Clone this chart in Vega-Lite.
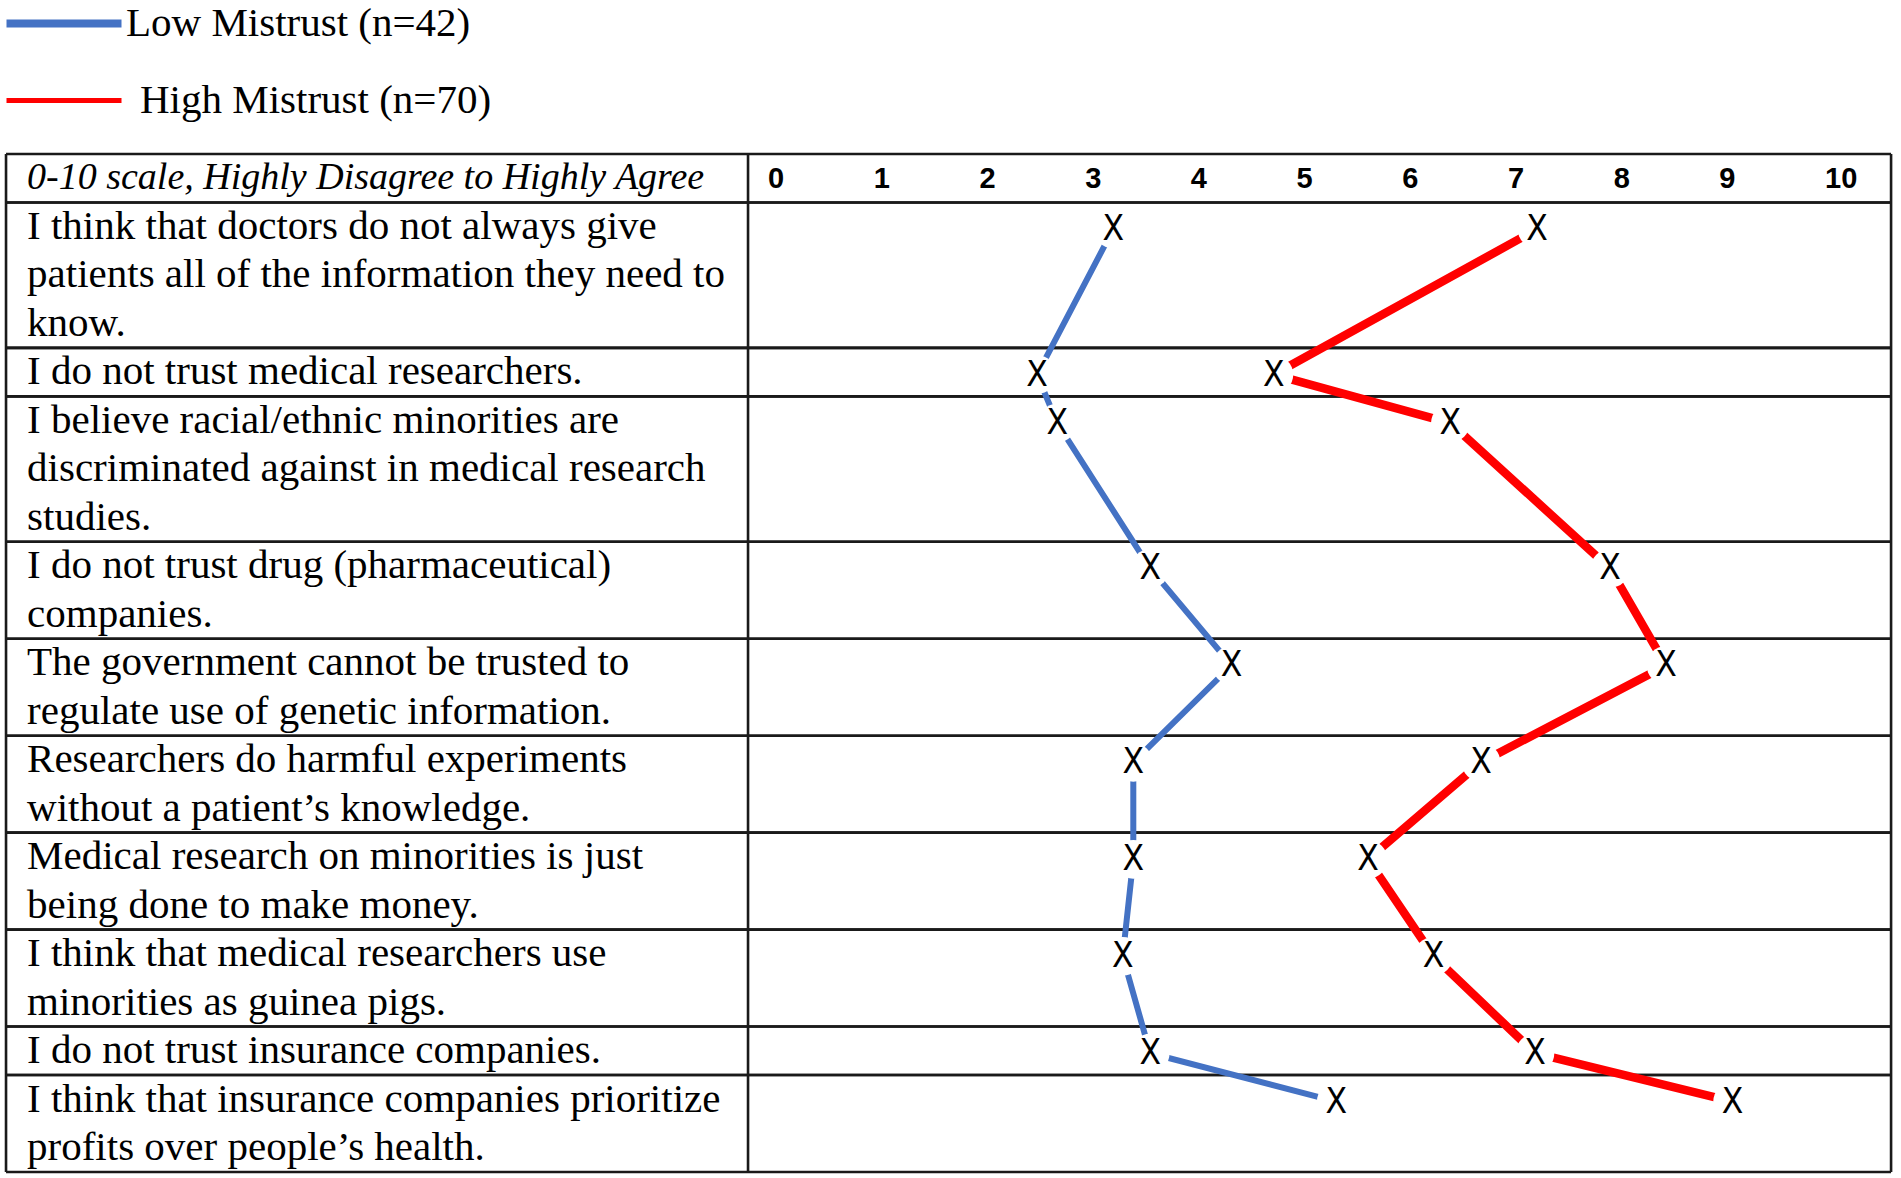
{
  "$schema": "https://vega.github.io/schema/vega-lite/v6.json",
  "width": 1901,
  "height": 1178,
  "autosize": {"type": "fit", "contains": "padding"},
  "padding": 0,
  "background": "white",
  "config": {"view": {"stroke": null}},
  "datasets": {
    "rows": [
      {"order": 0, "lines": ["0-10 scale, Highly Disagree to Highly Agree"]},
      {"order": 1, "lines": ["I think that doctors do not always give", "patients all of the information they need to", "know."], "low": 3.19, "high": 7.2},
      {"order": 2, "lines": ["I do not trust medical researchers."], "low": 2.47, "high": 4.71},
      {"order": 3, "lines": ["I believe racial/ethnic minorities are", "discriminated against in medical research", "studies."], "low": 2.66, "high": 6.38},
      {"order": 4, "lines": ["I do not trust drug (pharmaceutical)", "companies."], "low": 3.54, "high": 7.89},
      {"order": 5, "lines": ["The government cannot be trusted to", "regulate use of genetic information."], "low": 4.31, "high": 8.42},
      {"order": 6, "lines": ["Researchers do harmful experiments", "without a patient’s knowledge."], "low": 3.38, "high": 6.67},
      {"order": 7, "lines": ["Medical research on minorities is just", "being done to make money."], "low": 3.38, "high": 5.6},
      {"order": 8, "lines": ["I think that medical researchers use", "minorities as guinea pigs."], "low": 3.28, "high": 6.22},
      {"order": 9, "lines": ["I do not trust insurance companies."], "low": 3.54, "high": 7.18},
      {"order": 10, "lines": ["I think that insurance companies prioritize", "profits over people’s health."], "low": 5.3, "high": 9.05}
    ],
    "ticks": [{"t": 0}, {"t": 1}, {"t": 2}, {"t": 3}, {"t": 4}, {"t": 5}, {"t": 6}, {"t": 7}, {"t": 8}, {"t": 9}, {"t": 10}]
  },
  "layer": [
    {
      "data": {"name": "rows"},
      "transform": [
        {"calculate": "length(datum.lines)", "as": "nLines"},
        {"window": [{"op": "sum", "field": "nLines", "as": "end"}], "sort": [{"field": "order", "order": "ascending"}], "frame": [null, 0]},
        {"calculate": "datum.end - datum.nLines", "as": "start"},
        {"calculate": "datum.start + 0.55", "as": "markY"}
      ],
      "layer": [
        {
          "mark": {"type": "rule", "stroke": "#1a1a1a", "strokeWidth": 2.6},
          "encoding": {
            "x": {"datum": -7.285, "type": "quantitative", "scale": {"domain": [-7.342, 10.643], "nice": false, "zero": false}, "axis": null},
            "x2": {"datum": 10.549},
            "y": {"field": "start", "type": "quantitative", "scale": {"domain": [-3.177, 21.124], "reverse": true, "nice": false, "zero": false}, "axis": null}
          }
        },
        {
          "mark": {"type": "rule", "stroke": "#1a1a1a", "strokeWidth": 2.6},
          "encoding": {
            "x": {"datum": -7.285, "type": "quantitative", "scale": {"domain": [-7.342, 10.643], "nice": false, "zero": false}, "axis": null},
            "x2": {"datum": 10.549},
            "y": {"field": "end", "type": "quantitative", "scale": {"domain": [-3.177, 21.124], "reverse": true, "nice": false, "zero": false}, "axis": null}
          }
        },
        {
          "transform": [{"filter": "datum.order == 0"}],
          "mark": {"type": "text", "align": "left", "baseline": "alphabetic", "font": "Liberation Serif", "fontStyle": "italic", "fontSize": 38, "dy": 35, "color": "#000"},
          "encoding": {
            "x": {"datum": -7.086, "type": "quantitative", "scale": {"domain": [-7.342, 10.643], "nice": false, "zero": false}, "axis": null},
            "y": {"field": "start", "type": "quantitative", "scale": {"domain": [-3.177, 21.124], "reverse": true, "nice": false, "zero": false}, "axis": null},
            "text": {"field": "lines"}
          }
        },
        {
          "transform": [{"filter": "datum.order > 0"}],
          "mark": {"type": "text", "align": "left", "baseline": "alphabetic", "font": "Liberation Serif", "fontSize": 41, "lineHeight": 48.48, "dy": 36.5, "color": "#000"},
          "encoding": {
            "x": {"datum": -7.086, "type": "quantitative", "scale": {"domain": [-7.342, 10.643], "nice": false, "zero": false}, "axis": null},
            "y": {"field": "start", "type": "quantitative", "scale": {"domain": [-3.177, 21.124], "reverse": true, "nice": false, "zero": false}, "axis": null},
            "text": {"field": "lines"}
          }
        },
        {
          "transform": [{"filter": "datum.order > 0"}],
          "mark": {"type": "line", "strokeWidth": 6},
          "encoding": {
            "x": {"field": "low", "type": "quantitative", "scale": {"domain": [-7.342, 10.643], "nice": false, "zero": false}, "axis": null},
            "y": {"field": "markY", "type": "quantitative", "scale": {"domain": [-3.177, 21.124], "reverse": true, "nice": false, "zero": false}, "axis": null},
            "order": {"field": "order", "type": "quantitative"},
            "color": {
              "datum": "Low Mistrust (n=42)",
              "type": "nominal",
              "scale": {"domain": ["Low Mistrust (n=42)", "High Mistrust (n=70)"], "range": ["#4472C4", "#FF0000"]},
              "legend": {
                "orient": "none", "legendX": 0, "legendY": 3, "title": null, "padding": 0,
                "symbolType": "M-1.4,0H10.1", "symbolSize": 400, "symbolStrokeWidth": 7, "symbolOpacity": 1,
                "labelFont": "Liberation Serif", "labelFontSize": 41, "labelColor": "#000", "labelOffset": 85, "labelLimit": 0,
                "rowPadding": 35,
                "encode": {
                  "symbols": {"update": {"strokeWidth": {"signal": "datum.value === 'Low Mistrust (n=42)' ? 8 : 5"}}},
                  "labels": {"update": {"dx": {"signal": "datum.value === 'High Mistrust (n=70)' ? 14 : 0"}}}
                }
              }
            }
          }
        },
        {
          "transform": [{"filter": "datum.order > 0"}],
          "mark": {"type": "line", "strokeWidth": 8.5},
          "encoding": {
            "x": {"field": "high", "type": "quantitative", "scale": {"domain": [-7.342, 10.643], "nice": false, "zero": false}, "axis": null},
            "y": {"field": "markY", "type": "quantitative", "scale": {"domain": [-3.177, 21.124], "reverse": true, "nice": false, "zero": false}, "axis": null},
            "order": {"field": "order", "type": "quantitative"},
            "color": {"datum": "High Mistrust (n=70)", "type": "nominal"}
          }
        },
        {
          "transform": [{"filter": "datum.order > 0"}, {"fold": ["low", "high"], "as": ["key", "value"]}],
          "mark": {"type": "point", "shape": "circle", "filled": true, "fill": "white", "size": 1500, "opacity": 1, "strokeWidth": 0},
          "encoding": {
            "x": {"field": "value", "type": "quantitative", "scale": {"domain": [-7.342, 10.643], "nice": false, "zero": false}, "axis": null},
            "y": {"field": "markY", "type": "quantitative", "scale": {"domain": [-3.177, 21.124], "reverse": true, "nice": false, "zero": false}, "axis": null}
          }
        },
        {
          "transform": [{"filter": "datum.order > 0"}, {"fold": ["low", "high"], "as": ["key", "value"]}],
          "mark": {"type": "text", "text": "X", "align": "center", "baseline": "middle", "font": "Liberation Sans Narrow, DejaVu Sans Condensed, sans-serif", "fontSize": 35, "color": "#000"},
          "encoding": {
            "x": {"field": "value", "type": "quantitative", "scale": {"domain": [-7.342, 10.643], "nice": false, "zero": false}, "axis": null},
            "y": {"field": "markY", "type": "quantitative", "scale": {"domain": [-3.177, 21.124], "reverse": true, "nice": false, "zero": false}, "axis": null}
          }
        }
      ]
    },
    {
      "data": {"name": "ticks"},
      "mark": {"type": "text", "align": "left", "baseline": "alphabetic", "dx": -8, "dy": 34, "font": "Liberation Sans", "fontWeight": "bold", "fontSize": 29, "color": "#000"},
      "encoding": {
        "x": {"field": "t", "type": "quantitative", "scale": {"domain": [-7.342, 10.643], "nice": false, "zero": false}, "axis": null},
        "y": {"datum": 0, "type": "quantitative", "scale": {"domain": [-3.177, 21.124], "reverse": true, "nice": false, "zero": false}, "axis": null},
        "text": {"field": "t", "type": "quantitative"}
      }
    },
    {
      "data": {"values": [{}]},
      "mark": {"type": "rule", "stroke": "#1a1a1a", "strokeWidth": 2.6},
      "encoding": {
        "x": {"datum": -7.285, "type": "quantitative", "scale": {"domain": [-7.342, 10.643], "nice": false, "zero": false}, "axis": null},
        "y": {"datum": 0, "type": "quantitative", "scale": {"domain": [-3.177, 21.124], "reverse": true, "nice": false, "zero": false}, "axis": null},
        "y2": {"datum": 21}
      }
    },
    {
      "data": {"values": [{}]},
      "mark": {"type": "rule", "stroke": "#1a1a1a", "strokeWidth": 2.6},
      "encoding": {
        "x": {"datum": -0.265, "type": "quantitative", "scale": {"domain": [-7.342, 10.643], "nice": false, "zero": false}, "axis": null},
        "y": {"datum": 0, "type": "quantitative", "scale": {"domain": [-3.177, 21.124], "reverse": true, "nice": false, "zero": false}, "axis": null},
        "y2": {"datum": 21}
      }
    },
    {
      "data": {"values": [{}]},
      "mark": {"type": "rule", "stroke": "#1a1a1a", "strokeWidth": 2.6},
      "encoding": {
        "x": {"datum": 10.549, "type": "quantitative", "scale": {"domain": [-7.342, 10.643], "nice": false, "zero": false}, "axis": null},
        "y": {"datum": 0, "type": "quantitative", "scale": {"domain": [-3.177, 21.124], "reverse": true, "nice": false, "zero": false}, "axis": null},
        "y2": {"datum": 21}
      }
    }
  ]
}
